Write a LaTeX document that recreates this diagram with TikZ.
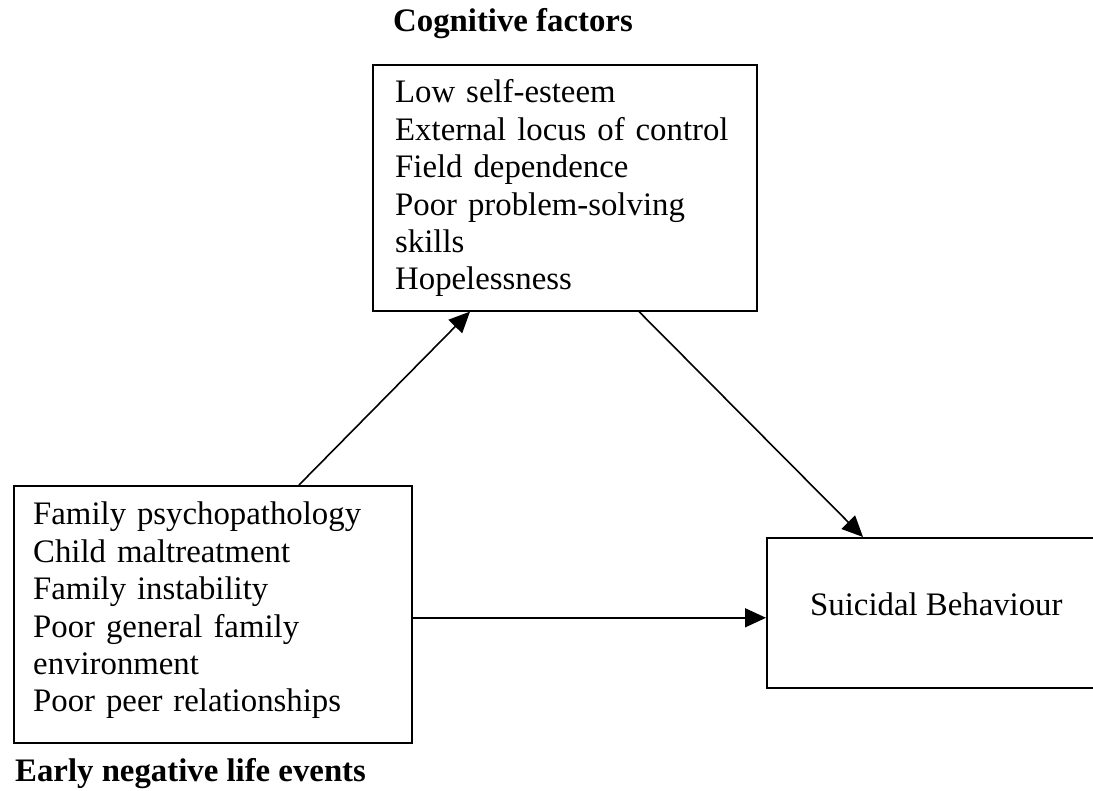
\documentclass[tikz,border=0pt]{standalone}
\usepackage{fontspec}
\setmainfont{Liberation Serif}
\usetikzlibrary{arrows.meta,calc}
\begin{document}
\begin{tikzpicture}[x=1pt,y=-1pt,
  boxnode/.style={draw,line width=1.6pt,rectangle,inner sep=0pt,anchor=north west},
  listtext/.style={anchor=base west,inner sep=0pt,align=left,font=\fontsize{32.8}{37.4}\selectfont},
  headtext/.style={anchor=base west,inner sep=0pt,font=\fontsize{32.8}{38}\selectfont\bfseries},
  arr/.style={line width=1.6pt,-{Triangle[length=21pt,width=19pt]}}]
\useasboundingbox (0,0) rectangle (1093,791);
\clip (0,0) rectangle (1093,791);
% boxes
\node[boxnode,minimum width=384pt,minimum height=246pt] (tb) at (372,64) {};
\node[boxnode,minimum width=398pt,minimum height=257pt] (lb) at (13,485) {};
\node[boxnode,minimum width=340pt,minimum height=150pt] (rb) at (766,537) {};
% texts
\node[headtext] (th) at (393,32) {Cognitive factors};
\node[listtext,text width=350pt] (tt) at (395,103) {Low self-esteem\\External locus of control\\Field dependence\\Poor problem-solving\\skills\\Hopelessness};
\node[listtext,text width=375pt] (lt) at (33,525) {Family psychopathology\\Child maltreatment\\Family instability\\Poor general family\\environment\\Poor peer relationships};
\node[headtext] (lh) at (15,781) {Early negative life events};
\node[listtext] (rt) at (810,615) {Suicidal Behaviour};
% connectors
\draw[arr] ([xshift=286pt]lb.north west) -- ([xshift=98pt]tb.south west);
\draw[arr] ([xshift=267pt]tb.south west) -- ([xshift=97pt]rb.north west);
\draw[arr] ([yshift=-3.5pt]lb.east) -- ([yshift=-3.5pt]lb.east -| rb.west);
\end{tikzpicture}
\end{document}
